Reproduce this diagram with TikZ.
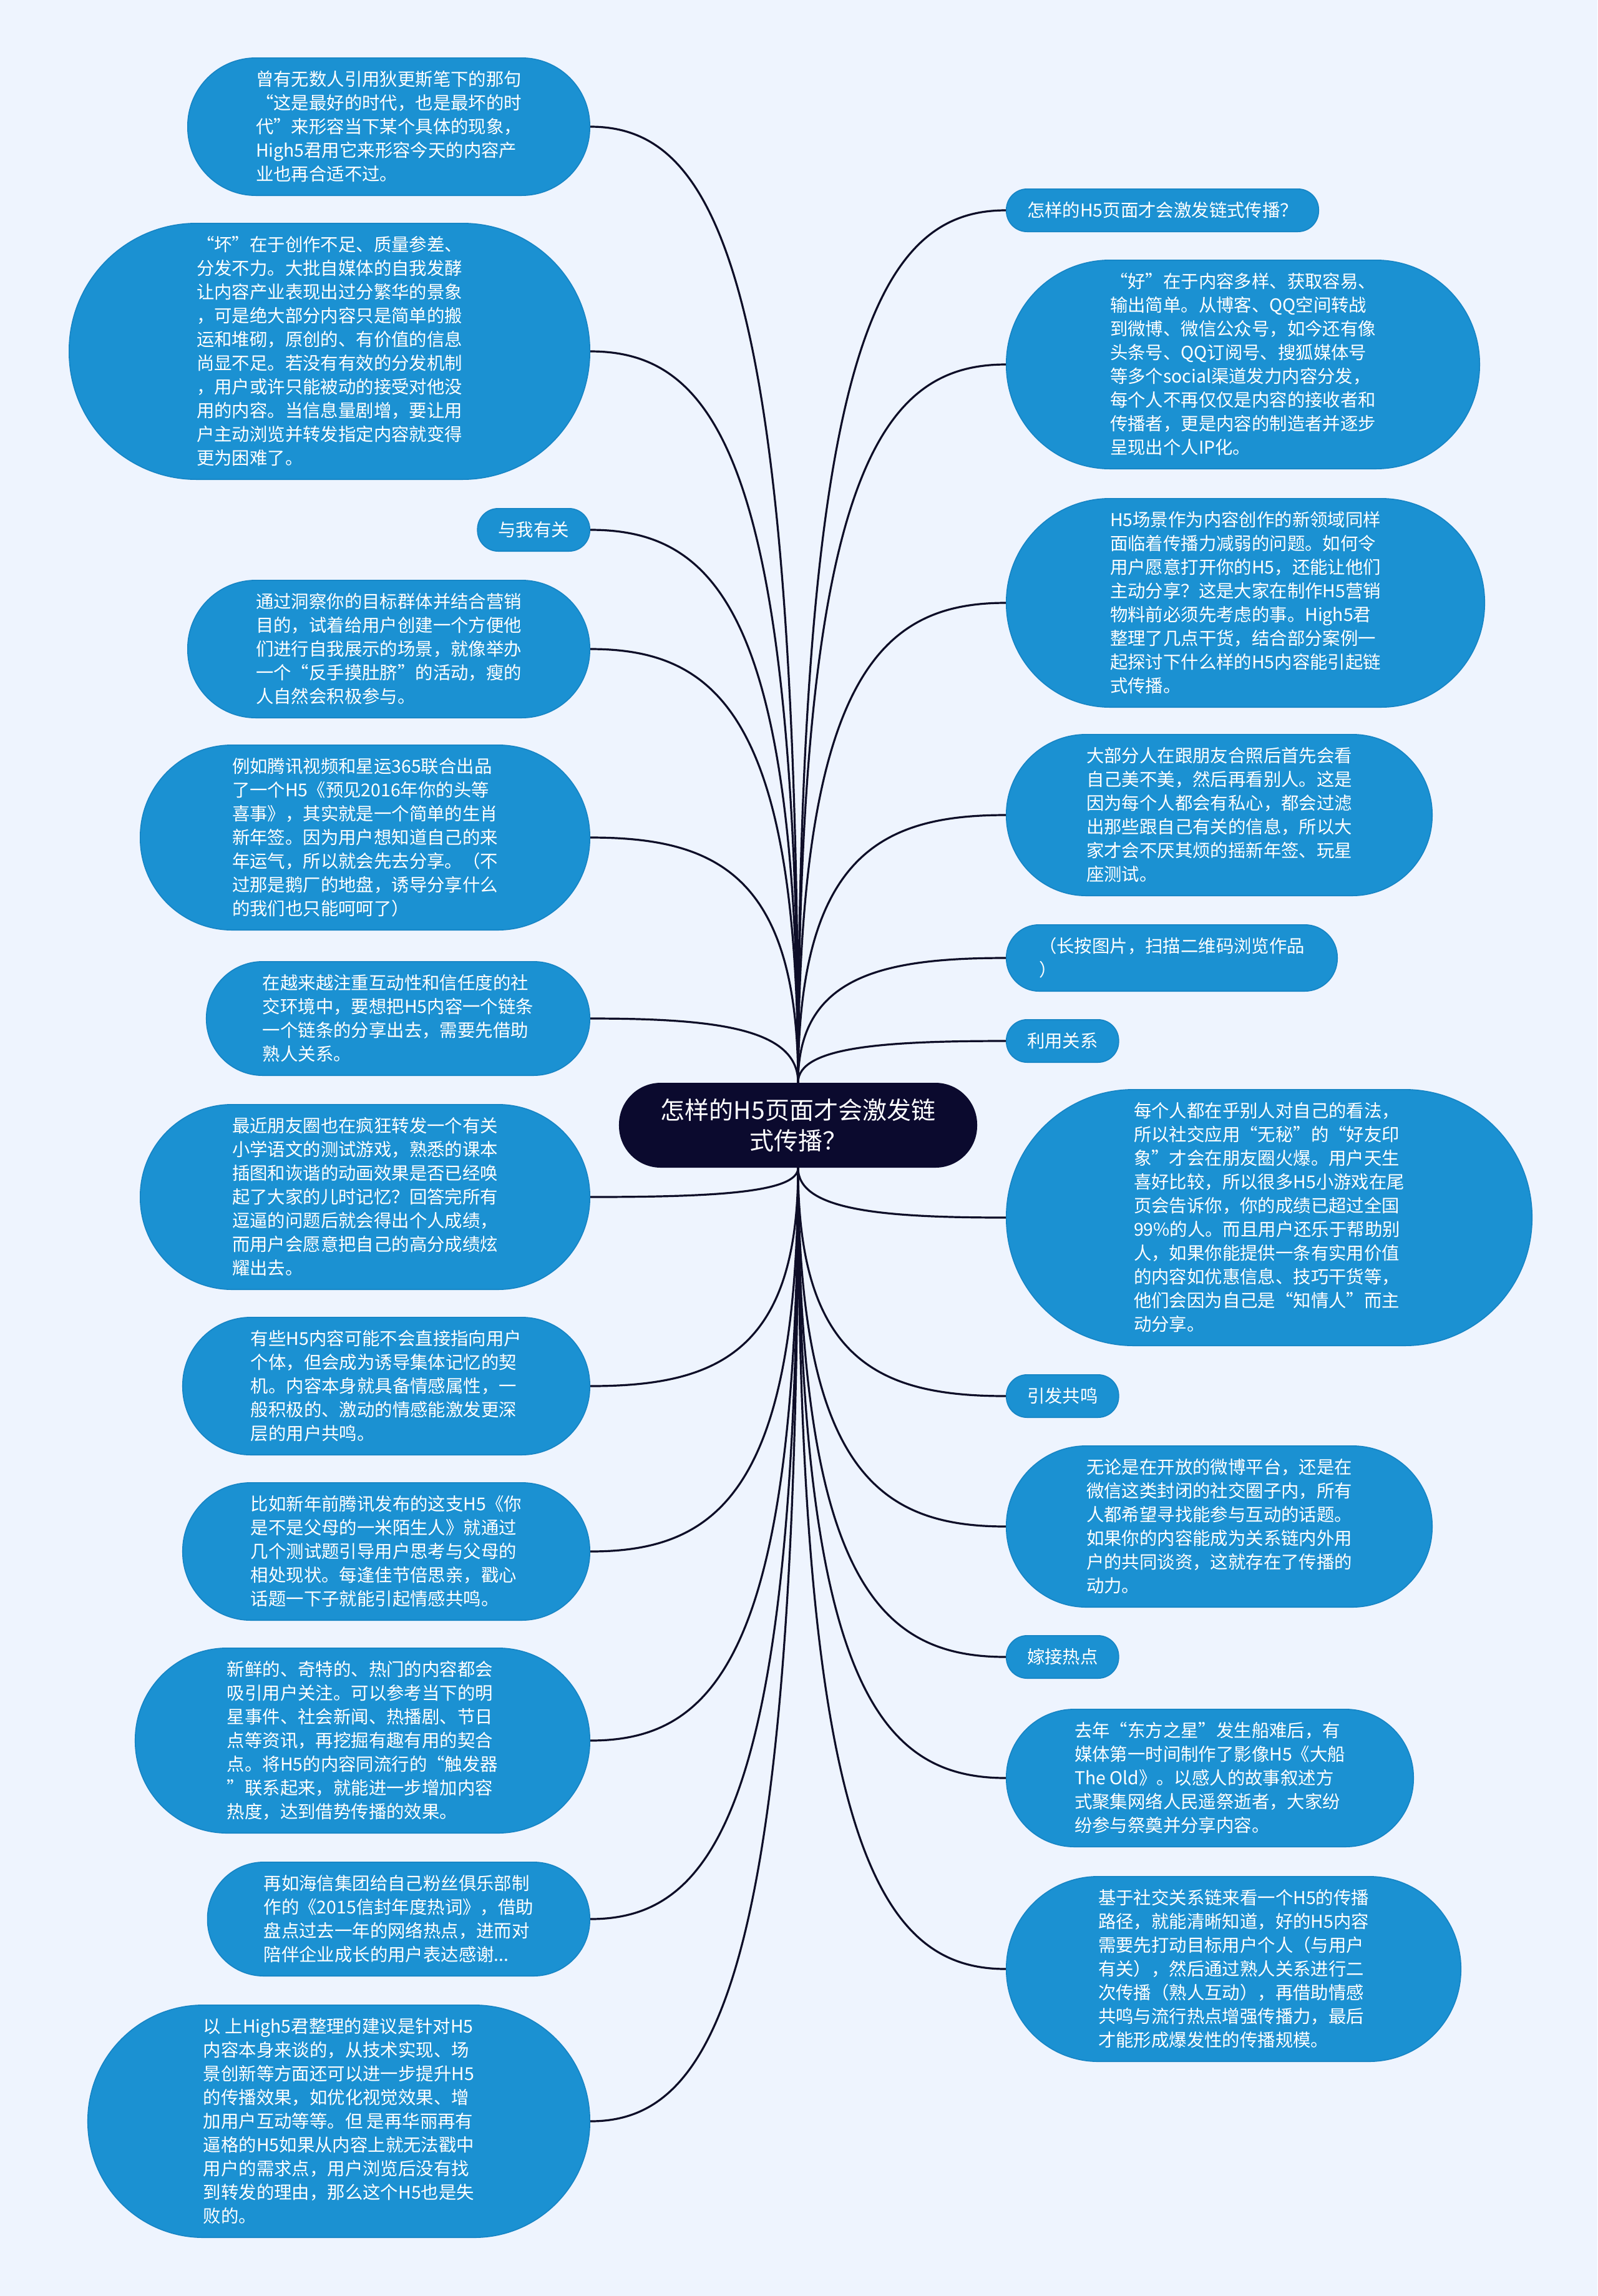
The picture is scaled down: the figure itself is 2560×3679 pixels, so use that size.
\documentclass[tikz,border=0pt]{standalone}
\usepackage{fontspec}
\newfontfamily\cjk{Noto Sans CJK SC}
\usetikzlibrary{calc}
\definecolor{pagebg}{RGB}{238,244,254}
\definecolor{leafblue}{RGB}{27,145,210}
\definecolor{leafline}{RGB}{22,132,196}
\definecolor{rootnavy}{RGB}{11,10,46}
\definecolor{linknavy}{RGB}{14,14,40}

\begin{document}
\begin{tikzpicture}[x=0.5pt,y=-0.5pt]
		\tikzset{leaf/.style = {rectangle, rounded corners=#1, inner xsep=#1, inner ysep=9.5pt, minimum height=2*#1+1pt, fill=leafblue, draw=leafline, line width=0.8pt, text=white, align=left, font=\cjk\fontsize{14.2pt}{19pt}\selectfont}}
		\tikzset{root/.style = {rectangle, rounded corners=33.5pt, inner xsep=33.5pt, inner ysep=11.5pt, minimum height=68pt, fill=rootnavy, text=white, align=center, font=\cjk\fontsize{19.5pt}{24.5pt}\selectfont}}
		\tikzset{branch/.style = {draw=linknavy, line width=1.6pt, to path={.. controls ($(\tikztostart)!0.85!(\tikztostart |- \tikztotarget)$) and ($(\tikztotarget)!0.6!(\tikztostart |- \tikztotarget)$) .. (\tikztotarget)}}}

		\fill[pagebg] (0,0) rectangle (2560,3679);

		\node[root] (A) at (1279,1803) {怎样的H5页面才会激发链\\式传播？};

		\node[leaf=54.6pt, anchor=east] (L_1) at (946,203) {曾有无数人引用狄更斯笔下的那句\\“这是最好的时代，也是最坏的时\\代”来形容当下某个具体的现象，\\High5君用它来形容今天的内容产\\业也再合适不过。};
		\node[leaf=102.1pt, anchor=east] (L_2) at (946,563) {“坏”在于创作不足、质量参差、\\分发不力。大批自媒体的自我发酵\\让内容产业表现出过分繁华的景象\\，可是绝大部分内容只是简单的搬\\运和堆砌，原创的、有价值的信息\\尚显不足。若没有有效的分发机制\\，用户或许只能被动的接受对他没\\用的内容。当信息量剧增，要让用\\户主动浏览并转发指定内容就变得\\更为困难了。};
		\node[leaf=16.6pt, anchor=east] (L_3) at (946,849) {与我有关};
		\node[leaf=54.6pt, anchor=east] (L_4) at (946,1040) {通过洞察你的目标群体并结合营销\\目的，试着给用户创建一个方便他\\们进行自我展示的场景，就像举办\\一个“反手摸肚脐”的活动，瘦的\\人自然会积极参与。};
		\node[leaf=73.6pt, anchor=east] (L_5) at (946,1342) {例如腾讯视频和星运365联合出品\\了一个H5《预见2016年你的头等\\喜事》，其实就是一个简单的生肖\\新年签。因为用户想知道自己的来\\年运气，所以就会先去分享。（不\\过那是鹅厂的地盘，诱导分享什么\\的我们也只能呵呵了）};
		\node[leaf=45.1pt, anchor=east] (L_6) at (946,1632) {在越来越注重互动性和信任度的社\\交环境中，要想把H5内容一个链条\\一个链条的分享出去，需要先借助\\熟人关系。};
		\node[leaf=73.6pt, anchor=east] (L_7) at (946,1918) {最近朋友圈也在疯狂转发一个有关\\小学语文的测试游戏，熟悉的课本\\插图和诙谐的动画效果是否已经唤\\起了大家的儿时记忆？回答完所有\\逗逼的问题后就会得出个人成绩，\\而用户会愿意把自己的高分成绩炫\\耀出去。};
		\node[leaf=54.6pt, anchor=east] (L_8) at (946,2221) {有些H5内容可能不会直接指向用户\\个体，但会成为诱导集体记忆的契\\机。内容本身就具备情感属性，一\\般积极的、激动的情感能激发更深\\层的用户共鸣。};
		\node[leaf=54.6pt, anchor=east] (L_9) at (946,2486) {比如新年前腾讯发布的这支H5《你\\是不是父母的一米陌生人》就通过\\几个测试题引导用户思考与父母的\\相处现状。每逢佳节倍思亲，戳心\\话题一下子就能引起情感共鸣。};
		\node[leaf=73.6pt, anchor=east] (L_10) at (946,2789) {新鲜的、奇特的、热门的内容都会\\吸引用户关注。可以参考当下的明\\星事件、社会新闻、热播剧、节日\\点等资讯，再挖掘有趣有用的契合\\点。将H5的内容同流行的“触发器\\”联系起来，就能进一步增加内容\\热度，达到借势传播的效果。};
		\node[leaf=45.1pt, anchor=east] (L_11) at (946,3075) {再如海信集团给自己粉丝俱乐部制\\作的《2015信封年度热词》，借助\\盘点过去一年的网络热点，进而对\\陪伴企业成长的用户表达感谢...};
		\node[leaf=92.6pt, anchor=east] (L_12) at (946,3399) {以 上High5君整理的建议是针对H5\\内容本身来谈的，从技术实现、场\\景创新等方面还可以进一步提升H5\\的传播效果，如优化视觉效果、增\\加用户互动等等。但 是再华丽再有\\逼格的H5如果从内容上就无法戳中\\用户的需求点，用户浏览后没有找\\到转发的理由，那么这个H5也是失\\败的。};

		\node[leaf=16.6pt, anchor=west] (R_1) at (1612,337) {怎样的H5页面才会激发链式传播？};
		\node[leaf=83.1pt, anchor=west] (R_2) at (1612,584) {“好”在于内容多样、获取容易、\\输出简单。从博客、QQ空间转战\\到微博、微信公众号，如今还有像\\头条号、QQ订阅号、搜狐媒体号\\等多个social渠道发力内容分发，\\每个人不再仅仅是内容的接收者和\\传播者，更是内容的制造者并逐步\\呈现出个人IP化。};
		\node[leaf=83.1pt, anchor=west] (R_3) at (1612,966) {H5场景作为内容创作的新领域同样\\面临着传播力减弱的问题。如何令\\用户愿意打开你的H5，还能让他们\\主动分享？这是大家在制作H5营销\\物料前必须先考虑的事。High5君\\整理了几点干货，结合部分案例一\\起探讨下什么样的H5内容能引起链\\式传播。};
		\node[leaf=64.1pt, anchor=west] (R_4) at (1612,1306) {大部分人在跟朋友合照后首先会看\\自己美不美，然后再看别人。这是\\因为每个人都会有私心，都会过滤\\出那些跟自己有关的信息，所以大\\家才会不厌其烦的摇新年签、玩星\\座测试。};
		\node[leaf=26.1pt, anchor=west] (R_5) at (1612,1535) {（长按图片，扫描二维码浏览作品\\）};
		\node[leaf=16.6pt, anchor=west] (R_6) at (1612,1668) {利用关系};
		\node[leaf=102.1pt, anchor=west] (R_7) at (1612,1951) {每个人都在乎别人对自己的看法，\\所以社交应用“无秘”的“好友印\\象”才会在朋友圈火爆。用户天生\\喜好比较，所以很多H5小游戏在尾\\页会告诉你，你的成绩已超过全国\\99\%的人。而且用户还乐于帮助别\\人，如果你能提供一条有实用价值\\的内容如优惠信息、技巧干货等，\\他们会因为自己是“知情人”而主\\动分享。};
		\node[leaf=16.6pt, anchor=west] (R_8) at (1612,2237) {引发共鸣};
		\node[leaf=64.1pt, anchor=west] (R_9) at (1612,2446) {无论是在开放的微博平台，还是在\\微信这类封闭的社交圈子内，所有\\人都希望寻找能参与互动的话题。\\如果你的内容能成为关系链内外用\\户的共同谈资，这就存在了传播的\\动力。};
		\node[leaf=16.6pt, anchor=west] (R_10) at (1612,2655) {嫁接热点};
		\node[leaf=54.6pt, anchor=west] (R_11) at (1612,2849) {去年“东方之星”发生船难后，有\\媒体第一时间制作了影像H5《大船\\The Old》。以感人的故事叙述方\\式聚集网络人民遥祭逝者，大家纷\\纷参与祭奠并分享内容。};
		\node[leaf=73.6pt, anchor=west] (R_12) at (1612,3155) {基于社交关系链来看一个H5的传播\\路径，就能清晰知道，好的H5内容\\需要先打动目标用户个人（与用户\\有关），然后通过熟人关系进行二\\次传播（熟人互动），再借助情感\\共鸣与流行热点增强传播力，最后\\才能形成爆发性的传播规模。};

		\draw[branch] (A.north) to (L_1.east);
		\draw[branch] (A.north) to (L_2.east);
		\draw[branch] (A.north) to (L_3.east);
		\draw[branch] (A.north) to (L_4.east);
		\draw[branch] (A.north) to (L_5.east);
		\draw[branch] (A.north) to (L_6.east);
		\draw[branch] (A.south) to (L_7.east);
		\draw[branch] (A.south) to (L_8.east);
		\draw[branch] (A.south) to (L_9.east);
		\draw[branch] (A.south) to (L_10.east);
		\draw[branch] (A.south) to (L_11.east);
		\draw[branch] (A.south) to (L_12.east);

		\draw[branch] (A.north) to (R_1.west);
		\draw[branch] (A.north) to (R_2.west);
		\draw[branch] (A.north) to (R_3.west);
		\draw[branch] (A.north) to (R_4.west);
		\draw[branch] (A.north) to (R_5.west);
		\draw[branch] (A.north) to (R_6.west);
		\draw[branch] (A.south) to (R_7.west);
		\draw[branch] (A.south) to (R_8.west);
		\draw[branch] (A.south) to (R_9.west);
		\draw[branch] (A.south) to (R_10.west);
		\draw[branch] (A.south) to (R_11.west);
		\draw[branch] (A.south) to (R_12.west);

	\end{tikzpicture}
\end{document}
